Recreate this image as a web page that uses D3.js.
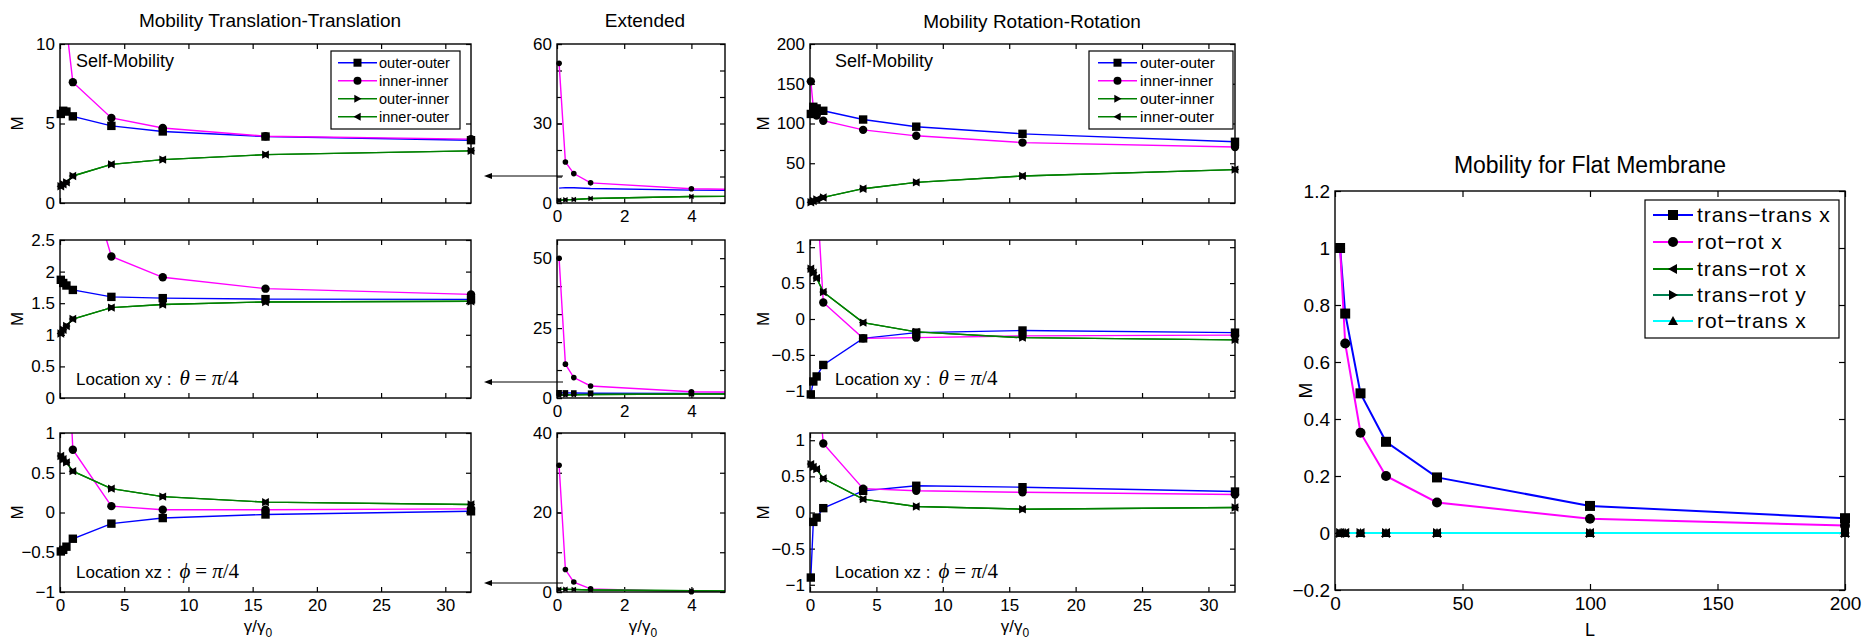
<!DOCTYPE html>
<html><head><meta charset="utf-8">
<script src="https://cdn.jsdelivr.net/npm/d3@7"></script>
<style>body{margin:0;background:#fff}svg{display:block}</style>
</head><body>
<svg id="c" width="1872" height="642"></svg>
<script>
// ---------------- DATA ----------------
const gammaX = [0.0625, 0.25, 0.5, 1, 4, 8, 16, 32];

// Translation-Translation, self-mobility
const ttSelfOuterOuter = [5.6, 5.8, 5.75, 5.45, 4.85, 4.5, 4.18, 3.95];
const ttSelfInnerInner = [52.7, 15.5, 11.1, 7.6, 5.35, 4.72, 4.2, 4.02];
const ttSelfOuterInner = [1.05, 1.18, 1.3, 1.7, 2.43, 2.73, 3.04, 3.28];
const ttSelfInnerOuter = [1.05, 1.18, 1.3, 1.7, 2.43, 2.73, 3.04, 3.28];
// Translation-Translation, location xy
const ttXyOuterOuter = [1.87, 1.82, 1.78, 1.71, 1.6, 1.58, 1.565, 1.56];
const ttXyInnerInner = [50, 12.1, 7.3, 4.3, 2.24, 1.91, 1.73, 1.64];
const ttXyOuterInner = [1.02, 1.08, 1.14, 1.25, 1.43, 1.48, 1.52, 1.53];
const ttXyInnerOuter = [1.02, 1.08, 1.14, 1.25, 1.43, 1.48, 1.52, 1.53];
// Translation-Translation, location xz
const ttXzOuterOuter = [-0.49, -0.47, -0.43, -0.33, -0.14, -0.07, -0.025, 0.015];
const ttXzInnerInner = [31.9, 5.65, 2.5, 0.79, 0.08, 0.035, 0.035, 0.045];
const ttXzOuterInner = [0.71, 0.67, 0.63, 0.52, 0.30, 0.20, 0.13, 0.10];
const ttXzInnerOuter = [0.71, 0.67, 0.63, 0.52, 0.30, 0.20, 0.13, 0.10];

// Rotation-Rotation, self-mobility
const rrSelfOuterOuter = [112, 121, 119, 116, 105, 96, 87, 77];
const rrSelfInnerInner = [153, 120, 110, 103.5, 92, 84.5, 76, 70.5];
const rrSelfOuterInner = [1, 2.5, 4.5, 7, 18, 26, 34, 42];
const rrSelfInnerOuter = [1, 2.5, 4.5, 7, 18, 26, 34, 42];
// Rotation-Rotation, location xy
const rrXyOuterOuter = [-1.05, -0.87, -0.80, -0.64, -0.27, -0.19, -0.16, -0.19];
const rrXyInnerInner = [12, 4, 1.8, 0.23, -0.27, -0.26, -0.235, -0.225];
const rrXyOuterInner = [0.70, 0.645, 0.57, 0.375, -0.05, -0.18, -0.26, -0.29];
const rrXyInnerOuter = [0.70, 0.645, 0.57, 0.375, -0.05, -0.18, -0.26, -0.29];
// Rotation-Rotation, location xz
const rrXzOuterOuter = [-0.90, -0.13, -0.07, 0.06, 0.30, 0.37, 0.35, 0.29];
const rrXzInnerInner = [12, 4, 2, 0.955, 0.33, 0.30, 0.28, 0.25];
const rrXzOuterInner = [0.67, 0.63, 0.60, 0.47, 0.185, 0.083, 0.046, 0.07];
const rrXzInnerOuter = [0.67, 0.63, 0.60, 0.47, 0.185, 0.083, 0.046, 0.07];

// Flat membrane
const flatL = [2, 4, 10, 20, 40, 100, 200];
const flatTransTransX = [1.0, 0.77, 0.49, 0.32, 0.195, 0.095, 0.052];
const flatRotRotX = [1.0, 0.665, 0.352, 0.2, 0.107, 0.05, 0.026];
const flatTransRotX = [0, 0, 0, 0, 0, 0, 0];
const flatTransRotY = [0, 0, 0, 0, 0, 0, 0];
const flatRotTransX = [0, 0, 0, 0, 0, 0, 0];

// Names / labels
const pairNames = ['outer-outer', 'inner-inner', 'outer-inner', 'inner-outer'];
const flatNames = ['trans\u2212trans x', 'rot\u2212rot x', 'trans\u2212rot x', 'trans\u2212rot y', 'rot\u2212trans x'];
const titles = ['Mobility Translation-Translation', 'Extended', 'Mobility Rotation-Rotation', 'Mobility for Flat Membrane'];

// Tick values
const gammaTicks = [0, 5, 10, 15, 20, 25, 30];
const extXTicks = [0, 2, 4];
const ttSelfYTicks = [0, 5, 10];
const ttXyYTicks = [0, 0.5, 1, 1.5, 2, 2.5];
const pmOneTicks = [-1, -0.5, 0, 0.5, 1];
const rrSelfYTicks = [0, 50, 100, 150, 200];
const extTopYLabels = [0, 30, 60];
const extTopYMinor = [0, 10, 20, 30, 40, 50, 60];
const extMidYLabels = [0, 25, 50];
const extMidYMinor = [0, 10, 20, 30, 40, 50];
const extBotYLabels = [0, 20, 40];
const extBotYMinor = [0, 10, 20, 30, 40];
const flatXTicks = [0, 50, 100, 150, 200];
const flatYTicks = [-0.2, 0, 0.2, 0.4, 0.6, 0.8, 1, 1.2];

// ---------------- DRAWING ----------------
const svg = d3.select('#c');
const SANS = "'Liberation Sans', Arial, sans-serif";
const SERIF = "'Liberation Serif', 'DejaVu Serif', serif";
const COL = {blue: '#0000ff', mag: '#ff00ff', green: '#008000', teal: '#008050', cyan: '#00ffff'};
const defs = svg.append('defs');
let clipN = 0;

const markerPath = {
  square: s => `M${-s},${-s}H${s}V${s}H${-s}Z`,
  circle: s => d3.symbol(d3.symbolCircle, Math.PI * s * s)(),
  right: s => `M${-s * 0.8},${-s}L${s},0L${-s * 0.8},${s}Z`,
  left: s => `M${s * 0.8},${-s}L${-s},0L${s * 0.8},${s}Z`,
  up: s => `M${-s},${s * 0.8}L0,${-s}L${s},${s * 0.8}Z`
};

const fmt = d => String(d).replace('-', '\u2212');

function pairSeries(oo, ii, oi, io) {
  return [
    {y: oo, color: COL.blue, marker: 'square'},
    {y: ii, color: COL.mag, marker: 'circle'},
    {y: oi, color: COL.green, marker: 'right'},
    {y: io, color: COL.green, marker: 'left'}
  ];
}

function panel(cfg) {
  const {x0, x1, y0, y1} = cfg.box;
  const xs = d3.scaleLinear().domain(cfg.xDomain).range([x0, x1]);
  const ys = d3.scaleLinear().domain(cfg.yDomain).range([y1, y0]);
  const g = svg.append('g');
  const id = 'clip' + (clipN++);
  defs.append('clipPath').attr('id', id).append('rect')
    .attr('x', x0).attr('y', y0).attr('width', x1 - x0).attr('height', y1 - y0);

  const fs = cfg.fontSize || 17;
  const tick = cfg.tick || 5;
  const style = a => {
    a.select('.domain').remove();
    a.selectAll('line').attr('stroke', '#000').attr('stroke-width', 1.2);
    a.selectAll('text').attr('font-family', SANS).attr('font-size', fs).attr('fill', '#000');
  };
  g.append('g').attr('transform', `translate(${x0},0)`)
    .call(d3.axisLeft(ys).tickValues(cfg.yLabels).tickSize(-tick).tickPadding(5).tickFormat(fmt)).call(style);
  g.append('g').attr('transform', `translate(${x1},0)`)
    .call(d3.axisRight(ys).tickValues(cfg.yMinor || cfg.yLabels).tickSize(-tick).tickFormat('')).call(style);
  if (cfg.yMinor) {
    g.append('g').attr('transform', `translate(${x0},0)`)
      .call(d3.axisLeft(ys).tickValues(cfg.yMinor).tickSize(-tick).tickFormat('')).call(style);
  }
  g.append('g').attr('transform', `translate(0,${y1})`)
    .call(d3.axisBottom(xs).tickValues(cfg.xTicks).tickSize(-tick).tickPadding(7)
      .tickFormat(cfg.showX ? fmt : '')).call(style);
  g.append('g').attr('transform', `translate(0,${y0})`)
    .call(d3.axisTop(xs).tickValues(cfg.xTicks).tickSize(-tick).tickFormat('')).call(style);

  const line = d3.line().x(d => xs(d[0])).y(d => ys(d[1]));
  cfg.series.forEach(s => {
    const pts = cfg.x.map((x, i) => [x, s.y[i]]);
    g.append('path').attr('d', line(pts)).attr('fill', 'none')
      .attr('stroke', s.color).attr('stroke-width', cfg.lw || 1.4)
      .attr('clip-path', `url(#${id})`);
  });
  const ms = cfg.ms || 4;
  cfg.series.forEach((s, si) => {
    if (cfg.noMarkers && cfg.noMarkers.includes(si)) return;
    cfg.x.forEach((x, i) => {
      const v = s.y[i];
      if (v < cfg.yDomain[0] || v > cfg.yDomain[1] || x < cfg.xDomain[0] || x > cfg.xDomain[1]) return;
      g.append('path').attr('d', markerPath[s.marker](ms))
        .attr('transform', `translate(${xs(x)},${ys(v)})`).attr('fill', '#000');
    });
  });
  g.append('rect').attr('x', x0).attr('y', y0).attr('width', x1 - x0).attr('height', y1 - y0)
    .attr('fill', 'none').attr('stroke', '#000').attr('stroke-width', 1.4);

  if (cfg.yLabel) {
    g.append('text').attr('transform', `translate(${cfg.yLabelX},${(y0 + y1) / 2}) rotate(-90)`)
      .attr('text-anchor', 'middle').attr('dy', '0.35em').attr('font-family', SANS)
      .attr('font-size', cfg.yLabelSize || 17).text(cfg.yLabel);
  }
  return {xs, ys, g};
}

function gammaLabel(cx, y) {
  const t = svg.append('text').attr('x', cx).attr('y', y).attr('text-anchor', 'middle')
    .attr('font-family', SANS).attr('font-size', 17);
  t.append('tspan').text('\u03b3/\u03b3');
  t.append('tspan').attr('font-size', 12).attr('dy', 5).text('0');
}

function legend(x, y, w, h, rowY, lineX0, lineX1, textX, fs, items, lw, ms, ls) {
  const g = svg.append('g');
  g.append('rect').attr('x', x).attr('y', y).attr('width', w).attr('height', h)
    .attr('fill', '#fff').attr('stroke', '#000').attr('stroke-width', 1.2);
  items.forEach((it, i) => {
    const yy = rowY[i];
    g.append('line').attr('x1', lineX0).attr('x2', lineX1).attr('y1', yy).attr('y2', yy)
      .attr('stroke', it.color).attr('stroke-width', lw);
    g.append('path').attr('d', markerPath[it.marker](ms))
      .attr('transform', `translate(${(lineX0 + lineX1) / 2},${yy})`).attr('fill', '#000');
    g.append('text').attr('x', textX).attr('y', yy).attr('dy', '0.35em')
      .attr('font-family', SANS).attr('font-size', fs).attr('letter-spacing', ls || 0).text(it.name);
  });
}

function locText(x, y, prefix, sym) {
  const t = svg.append('text').attr('x', x).attr('y', y).attr('font-family', SANS).attr('font-size', 17);
  t.append('tspan').text(prefix + ' :');
  t.append('tspan').attr('dx', 8).attr('font-family', SERIF).attr('font-size', 21).attr('font-style', 'italic').text(sym);
  t.append('tspan').attr('dx', 5).attr('font-family', SERIF).attr('font-size', 21).text('=');
  t.append('tspan').attr('dx', 5).attr('font-family', SERIF).attr('font-size', 21).attr('font-style', 'italic').text('\u03c0');
  t.append('tspan').attr('font-family', SERIF).attr('font-size', 21).text('/4');
}

function arrow(xTail, xHead, y) {
  svg.append('line').attr('x1', xTail).attr('x2', xHead + 6).attr('y1', y).attr('y2', y)
    .attr('stroke', '#000').attr('stroke-width', 1);
  svg.append('path').attr('d', `M${xHead},${y}L${xHead + 8},${y - 3}L${xHead + 8},${y + 3}Z`).attr('fill', '#000');
}

// Layout
const rows = [{y0: 44, y1: 203}, {y0: 240, y1: 398}, {y0: 433, y1: 592}];
const colTT = {x0: 60, x1: 471};
const colExt = {x0: 557, x1: 725};
const colRR = {x0: 810, x1: 1235};

const ttData = [
  pairSeries(ttSelfOuterOuter, ttSelfInnerInner, ttSelfOuterInner, ttSelfInnerOuter),
  pairSeries(ttXyOuterOuter, ttXyInnerInner, ttXyOuterInner, ttXyInnerOuter),
  pairSeries(ttXzOuterOuter, ttXzInnerInner, ttXzOuterInner, ttXzInnerOuter)
];
const rrData = [
  pairSeries(rrSelfOuterOuter, rrSelfInnerInner, rrSelfOuterInner, rrSelfInnerOuter),
  pairSeries(rrXyOuterOuter, rrXyInnerInner, rrXyOuterInner, rrXyInnerOuter),
  pairSeries(rrXzOuterOuter, rrXzInnerInner, rrXzOuterInner, rrXzInnerOuter)
];
const ttY = [[0, 10], [0, 2.5], [-1, 1]];
const ttYT = [ttSelfYTicks, ttXyYTicks, pmOneTicks];
const extY = [[0, 60], [0, 56.5], [0, 40]];
const extYL = [extTopYLabels, extMidYLabels, extBotYLabels];
const extYM = [extTopYMinor, extMidYMinor, extBotYMinor];
const rrY = [[0, 200], [-1.1, 1.1], [-1.1, 1.1]];
const rrYT = [rrSelfYTicks, pmOneTicks, pmOneTicks];

rows.forEach((r, i) => {
  panel({box: {...colTT, ...r}, x: gammaX, xDomain: [0, 32], yDomain: ttY[i], yLabels: ttYT[i],
    xTicks: gammaTicks, showX: i === 2, series: ttData[i], ms: 4.2, yLabel: 'M', yLabelX: 17});
  panel({box: {...colExt, ...r}, x: gammaX, xDomain: [0, 5], yDomain: extY[i], yLabels: extYL[i], yMinor: extYM[i],
    xTicks: extXTicks, showX: true, series: ttData[i], ms: 2.8, noMarkers: i === 0 ? [0] : []});
  panel({box: {...colRR, ...r}, x: gammaX, xDomain: [0, 32], yDomain: rrY[i], yLabels: rrYT[i],
    xTicks: gammaTicks, showX: i === 2, series: rrData[i], ms: 4.2, yLabel: 'M', yLabelX: 763});
});

const titleAt = (txt, cx, y, fs) => svg.append('text').attr('x', cx).attr('y', y).attr('text-anchor', 'middle')
  .attr('font-family', SANS).attr('font-size', fs).text(txt);
titleAt(titles[0], 270, 27, 19);
titleAt(titles[1], 645, 27, 19);
titleAt(titles[2], 1032, 28, 19);

svg.append('text').attr('x', 76).attr('y', 67).attr('font-family', SANS).attr('font-size', 18).text('Self-Mobility');
svg.append('text').attr('x', 835).attr('y', 67).attr('font-family', SANS).attr('font-size', 18).text('Self-Mobility');
locText(76, 385, 'Location xy', '\u03b8');
locText(76, 578, 'Location xz', '\u03d5');
locText(835, 385, 'Location xy', '\u03b8');
locText(835, 578, 'Location xz', '\u03d5');

const pairItems = pairNames.map((n, i) => ({name: n, color: ttData[0][i].color, marker: ttData[0][i].marker}));
legend(331, 51, 129, 78, [62.7, 80.7, 98.7, 116.7], 338, 377, 379, 14.5, pairItems, 1.4, 4);
legend(1089, 51, 144, 78, [62.7, 80.7, 98.7, 116.7], 1098, 1137, 1140, 15.3, pairItems, 1.4, 4);

gammaLabel(258, 632);
gammaLabel(643, 632);
gammaLabel(1015, 632);

arrow(563, 484, 176);
arrow(563, 484, 382);
arrow(563, 484, 583);

// Flat membrane panel
const flatSeries = [
  {y: flatTransTransX, color: COL.blue, marker: 'square'},
  {y: flatRotRotX, color: COL.mag, marker: 'circle'},
  {y: flatTransRotX, color: COL.green, marker: 'left'},
  {y: flatTransRotY, color: COL.teal, marker: 'right'},
  {y: flatRotTransX, color: COL.cyan, marker: 'up'}
];
panel({box: {x0: 1335, x1: 1845, y0: 191, y1: 590}, x: flatL, xDomain: [0, 200], yDomain: [-0.2, 1.2],
  yLabels: flatYTicks, xTicks: flatXTicks, showX: true, series: flatSeries, ms: 5, lw: 2,
  fontSize: 19, tick: 6, yLabel: 'M', yLabelX: 1305, yLabelSize: 19});
titleAt(titles[3], 1590, 173, 23);
svg.append('text').attr('x', 1590).attr('y', 636).attr('text-anchor', 'middle')
  .attr('font-family', SANS).attr('font-size', 18).text('L');
legend(1645, 200, 194, 138, [215, 242, 269, 295, 321], 1653, 1693, 1697, 21,
  flatNames.map((n, i) => ({name: n, color: flatSeries[i].color, marker: flatSeries[i].marker})), 2, 5, 0.9);
</script>
</body></html>
